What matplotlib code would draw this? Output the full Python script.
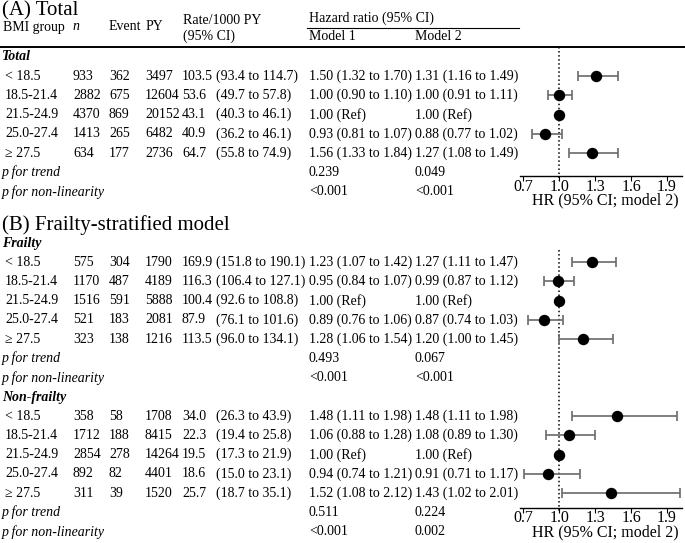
import numpy as np
import matplotlib
matplotlib.use("Agg")
import matplotlib.pyplot as plt

plt.rcParams['font.family'] = ['Liberation Serif', 'DejaVu Serif']

W, H = 685, 543
groups = ["< 18.5", "18.5-21.4", "21.5-24.9", "25.0-27.4", "\u2265 27.5"]
ticks = [0.7, 1.0, 1.3, 1.6, 1.9]
tick_labels = ["0.7", "1.0", "1.3", "1.6", "1.9"]

# (A) Total
tot_n = [933, 2882, 4370, 1413, 634]
tot_event = [362, 675, 869, 265, 177]
tot_py = [3497, 12604, 20152, 6482, 2736]
tot_rate = [103.5, 53.6, 43.1, 40.9, 64.7]
tot_rate_lo = [93.4, 49.7, 40.3, 36.2, 55.8]
tot_rate_hi = [114.7, 57.8, 46.1, 46.1, 74.9]
tot_m1 = [1.50, 1.00, 1.00, 0.93, 1.56]
tot_m1_lo = [1.32, 0.90, 1.00, 0.81, 1.33]
tot_m1_hi = [1.70, 1.10, 1.00, 1.07, 1.84]
tot_m2 = [1.31, 1.00, 1.00, 0.88, 1.27]
tot_m2_lo = [1.16, 0.91, 1.00, 0.77, 1.08]
tot_m2_hi = [1.49, 1.11, 1.00, 1.02, 1.49]
tot_p_trend = ["0.239", "0.049"]
tot_p_nonlin = ["<0.001", "<0.001"]

# (B) Frailty
fr_n = [575, 1170, 1516, 521, 323]
fr_event = [304, 487, 591, 183, 138]
fr_py = [1790, 4189, 5888, 2081, 1216]
fr_rate = [169.9, 116.3, 100.4, 87.9, 113.5]
fr_rate_lo = [151.8, 106.4, 92.6, 76.1, 96.0]
fr_rate_hi = [190.1, 127.1, 108.8, 101.6, 134.1]
fr_m1 = [1.23, 0.95, 1.00, 0.89, 1.28]
fr_m1_lo = [1.07, 0.84, 1.00, 0.76, 1.06]
fr_m1_hi = [1.42, 1.07, 1.00, 1.06, 1.54]
fr_m2 = [1.27, 0.99, 1.00, 0.87, 1.20]
fr_m2_lo = [1.11, 0.87, 1.00, 0.74, 1.00]
fr_m2_hi = [1.47, 1.12, 1.00, 1.03, 1.45]
fr_p_trend = ["0.493", "0.067"]
fr_p_nonlin = ["<0.001", "<0.001"]

# (B) Non-frailty
nf_n = [358, 1712, 2854, 892, 311]
nf_event = [58, 188, 278, 82, 39]
nf_py = [1708, 8415, 14264, 4401, 1520]
nf_rate = [34.0, 22.3, 19.5, 18.6, 25.7]
nf_rate_lo = [26.3, 19.4, 17.3, 15.0, 18.7]
nf_rate_hi = [43.9, 25.8, 21.9, 23.1, 35.1]
nf_m1 = [1.48, 1.06, 1.00, 0.94, 1.52]
nf_m1_lo = [1.11, 0.88, 1.00, 0.74, 1.08]
nf_m1_hi = [1.98, 1.28, 1.00, 1.21, 2.12]
nf_m2 = [1.48, 1.08, 1.00, 0.91, 1.43]
nf_m2_lo = [1.11, 0.89, 1.00, 0.71, 1.02]
nf_m2_hi = [1.98, 1.30, 1.00, 1.17, 2.01]
nf_p_trend = ["0.511", "0.224"]
nf_p_nonlin = ["<0.001", "0.002"]

FS = 10.0
PITCH = 19.3
cols = [5, 73, 109, 145, 182, 216, 309, 415]

fig = plt.figure(figsize=(W / 100, H / 100), dpi=100)
ax = fig.add_axes([0, 0, 1, 1])
ax.set_xlim(0, W)
ax.set_ylim(H, 0)
ax.axis('off')


def txt(x, y, s, **kw):
    ax.text(x, y, s, fontsize=kw.pop('fontsize', FS), va='center', ha='left', **kw)


def hr_text(hr, lo, hi):
    if lo == hi == hr == 1.0:
        return "1.00 (Ref)"
    return f"{hr:.2f} ({lo:.2f} to {hi:.2f})"


def block(y0, n, ev, py, rate, rlo, rhi, m1, m1lo, m1hi, m2, m2lo, m2hi, ptr, pnl):
    for k in range(len(groups)):
        y = y0 + k * PITCH
        txt(cols[0], y, groups[k])
        txt(cols[1], y, str(n[k]))
        txt(cols[2], y, str(ev[k]))
        txt(cols[3], y, str(py[k]))
        txt(cols[4], y, f"{rate[k]:.1f}")
        txt(cols[5], y, f"({rlo[k]:.1f} to {rhi[k]:.1f})")
        txt(cols[6], y, hr_text(m1[k], m1lo[k], m1hi[k]))
        txt(cols[7], y, hr_text(m2[k], m2lo[k], m2hi[k]))
    y = y0 + 5 * PITCH
    txt(2, y, "p for trend", style='italic')
    txt(cols[6], y, ptr[0])
    txt(cols[7], y, ptr[1])
    y = y0 + 6 * PITCH
    txt(2, y, "p for non-linearity", style='italic')
    txt(cols[6], y, pnl[0])
    txt(cols[7], y, pnl[1])


def forest(top, bottom, sets):
    fa = fig.add_axes([520 / W, 1 - bottom / H, 162 / W, (bottom - top) / H])
    fa.set_xlim(0.6725, 2.025)
    fa.set_ylim(bottom, top)
    fa.plot([1.0, 1.0], [top, bottom + 5], color='black', ls=':', lw=1.1, clip_on=False)
    for y0, hr, lo, hi in sets:
        hr = np.array(hr)
        ys = y0 + np.arange(len(hr)) * PITCH
        fa.errorbar(hr, ys, xerr=[hr - np.array(lo), np.array(hi) - hr], fmt='o',
                    color='black', ecolor='#6a6a6a', elinewidth=1.2, capsize=3.6,
                    capthick=1.2, ms=7.2, zorder=3)
    for s in ['left', 'right', 'top']:
        fa.spines[s].set_visible(False)
    fa.spines['bottom'].set_linewidth(1.0)
    fa.set_yticks([])
    fa.set_xticks(ticks)
    fa.set_xticklabels(tick_labels)
    fa.tick_params(axis='x', direction='out', length=3.5, width=0.8, pad=-1.5, labelsize=11.5)
    fa.set_xlabel("HR (95% CI; model 2)", fontsize=11.5, labelpad=-1.5, x=0.525)
    fa.patch.set_alpha(0)


# section A
txt(2, 11, "(A) Total", fontsize=15)
txt(3, 27, "BMI group")
txt(73, 27, "n", style='italic')
txt(109, 27, "Event")
txt(146, 27, "PY")
txt(183, 20, "Rate/1000 PY")
txt(183, 36, "(95% CI)")
txt(309, 18, "Hazard ratio (95% CI)")
ax.plot([307, 519], [28, 28], color='black', lw=0.8)
txt(309, 37, "Model 1")
txt(415, 37, "Model 2")
ax.plot([0, W], [47, 47], color='black', lw=1.4)
txt(2, 57, "Total", style='italic', weight='bold')
block(76, tot_n, tot_event, tot_py, tot_rate, tot_rate_lo, tot_rate_hi,
      tot_m1, tot_m1_lo, tot_m1_hi, tot_m2, tot_m2_lo, tot_m2_hi, tot_p_trend, tot_p_nonlin)
forest(47, 176, [(76, tot_m2, tot_m2_lo, tot_m2_hi)])

# section B
txt(2, 225, "(B) Frailty-stratified model", fontsize=15)
txt(2, 243, "Frailty", style='italic', weight='bold')
block(262, fr_n, fr_event, fr_py, fr_rate, fr_rate_lo, fr_rate_hi,
      fr_m1, fr_m1_lo, fr_m1_hi, fr_m2, fr_m2_lo, fr_m2_hi, fr_p_trend, fr_p_nonlin)
txt(2, 397, "Non-frailty", style='italic', weight='bold')
block(416, nf_n, nf_event, nf_py, nf_rate, nf_rate_lo, nf_rate_hi,
      nf_m1, nf_m1_lo, nf_m1_hi, nf_m2, nf_m2_lo, nf_m2_hi, nf_p_trend, nf_p_nonlin)
forest(250, 507.7, [(262, fr_m2, fr_m2_lo, fr_m2_hi), (416, nf_m2, nf_m2_lo, nf_m2_hi)])

fig.savefig("out.png", dpi=100)
